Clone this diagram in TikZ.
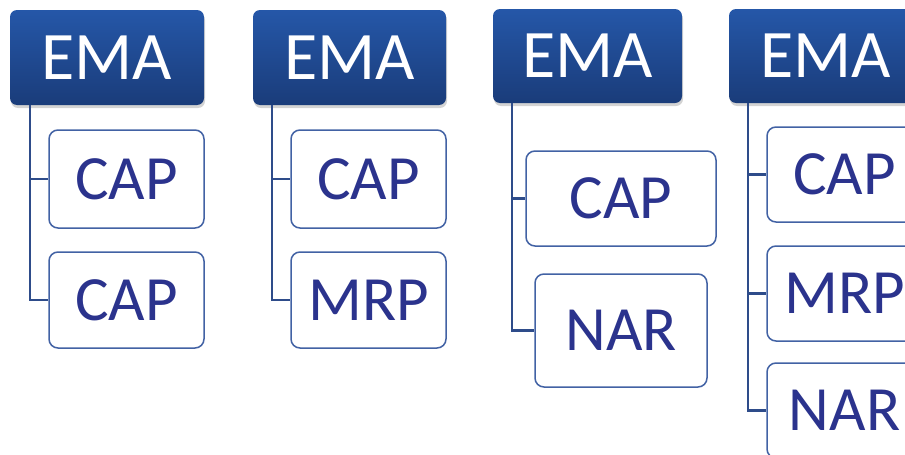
\documentclass[tikz,border=0pt]{standalone}
\usepackage{fontspec}
\setmainfont{Carlito}
\usetikzlibrary{shadows}
\definecolor{headtop}{RGB}{37,87,168}
\definecolor{headbot}{RGB}{26,60,122}
\definecolor{boxline}{RGB}{66,98,164}
\definecolor{boxtext}{RGB}{43,51,141}
\definecolor{conn}{RGB}{46,76,138}
\tikzset{
  head/.style={rectangle, rounded corners=7pt, top color=headtop, bottom color=headbot,
    draw=none, text=white, font=\fontsize{68}{68}\selectfont, inner sep=0pt,
    drop shadow={opacity=0.35, shadow xshift=1pt, shadow yshift=-3pt}},
  child/.style={rectangle, rounded corners=9pt, draw=boxline, line width=1.5pt, fill=white,
    text=boxtext, font=\fontsize{63}{63}\selectfont, inner sep=0pt},
  link/.style={draw=conn, line width=2.2pt}
}
\begin{document}
\begin{tikzpicture}[x=1pt, y=-1pt]
\useasboundingbox (0,0) rectangle (905,455);
% group 1
\node[head, minimum width=194pt, minimum height=95pt] (e1) at (107,57.5) {EMA};
\node[child, minimum width=155pt, minimum height=98pt] (c11) at (126.5,179) {CAP};
\node[child, minimum width=155pt, minimum height=96pt] (c12) at (126.5,300) {CAP};
% group 2
\node[head, minimum width=193pt, minimum height=95pt] (e2) at (349.5,57.5) {EMA};
\node[child, minimum width=155pt, minimum height=98pt] (c21) at (368.5,179) {CAP};
\node[child, minimum width=155pt, minimum height=96pt] (c22) at (368.5,300) {MRP};
% group 3
\node[head, minimum width=189pt, minimum height=94pt] (e3) at (587.5,56) {EMA};
\node[child, minimum width=190pt, minimum height=95pt] (c31) at (621,198.5) {CAP};
\node[child, minimum width=172pt, minimum height=113pt] (c32) at (621,330.5) {NAR};
% group 4
\node[head, minimum width=194pt, minimum height=94pt] (e4) at (826,56) {EMA};
\node[child, minimum width=155pt, minimum height=95pt] (c41) at (844.5,174.5) {CAP};
\node[child, minimum width=155pt, minimum height=95pt] (c42) at (844.5,293.5) {MRP};
\node[child, minimum width=155pt, minimum height=95pt] (c43) at (844.5,410.5) {NAR};
% trunk coordinates
\coordinate (t1) at ([xshift=20pt]e1.south west);
\coordinate (t2) at ([xshift=19pt]e2.south west);
\coordinate (t3) at ([xshift=19pt]e3.south west);
\coordinate (t4) at ([xshift=19pt]e4.south west);
% connectors
\draw[link] (t1) |- (c11.west);
\draw[link] (t1) |- (c12.west);
\draw[link] (t2) |- (c21.west);
\draw[link] (t2) |- (c22.west);
\draw[link] (t3) |- (c31.west);
\draw[link] (t3) |- (c32.west);
\draw[link] (t4) |- (c41.west);
\draw[link] (t4) |- (c42.west);
\draw[link] (t4) |- (c43.west);
\end{tikzpicture}
\end{document}
